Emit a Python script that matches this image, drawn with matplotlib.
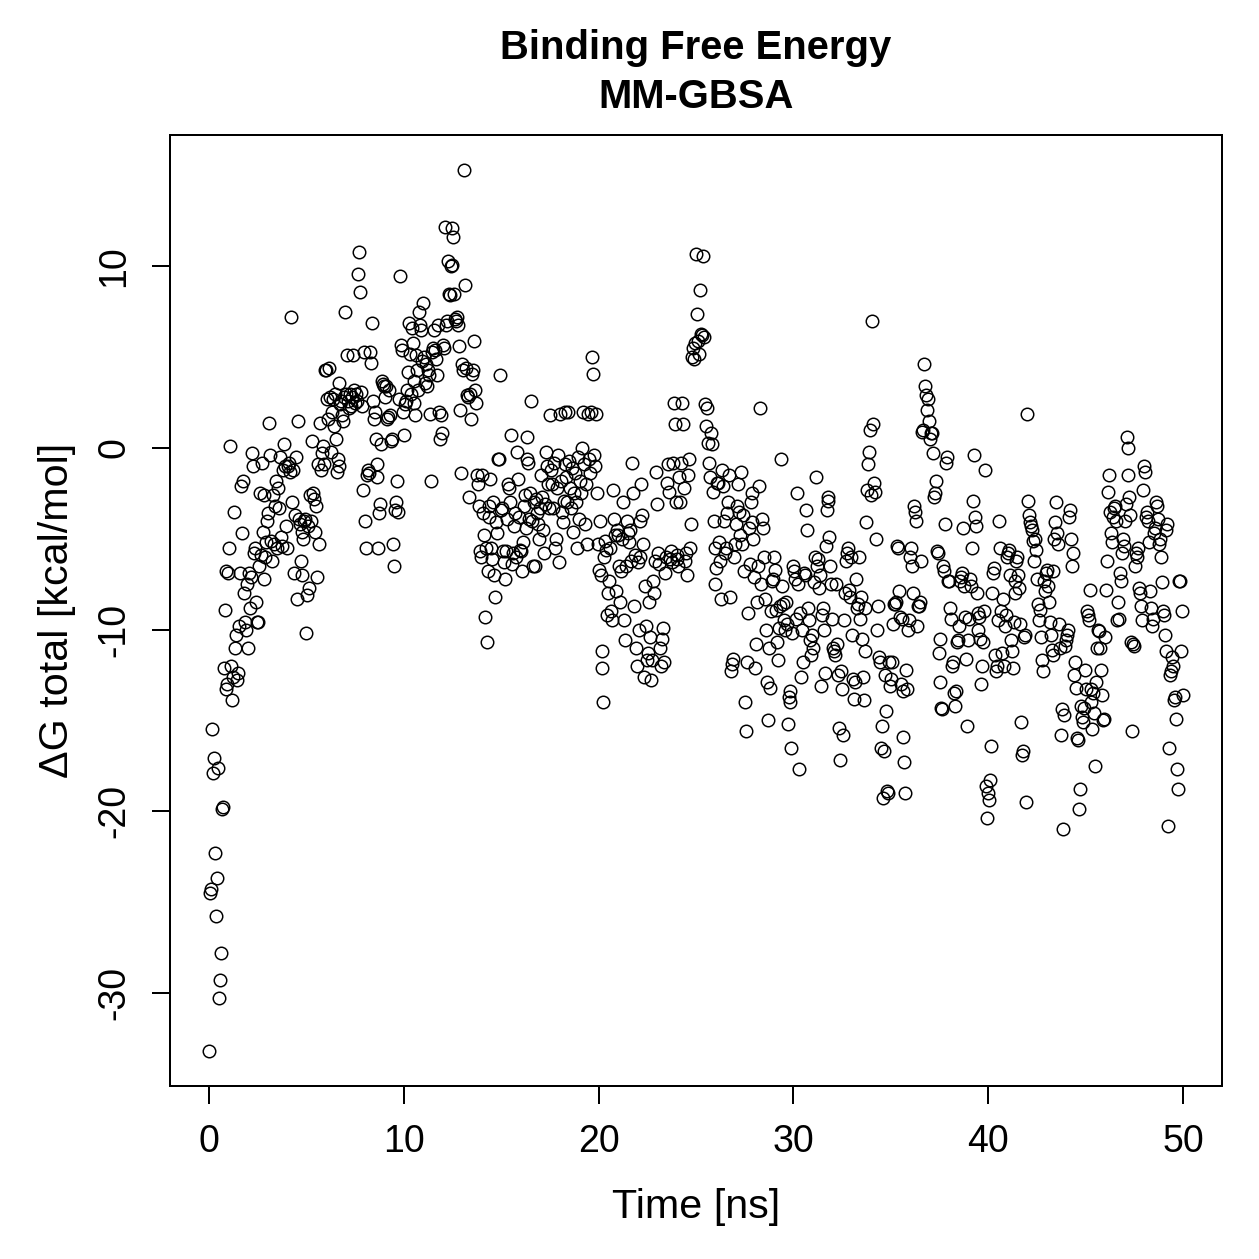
import numpy as np
import matplotlib
matplotlib.use("Agg")
from matplotlib import pyplot as plt

# Delta G total per frame, one row per ns (20 frames / ns, 0.05 ns step)
dg_total = [
    -33.2, -24.5, -24.3, -15.5, -17.9, -17.1, -22.3, -25.8, -23.7, -17.6, -30.3, -29.3, -27.8, -19.9, -19.8, -12.1, -8.9, -13.3, -6.8, -13.0,
    -6.9, -5.5, 0.1, -12.0, -13.9, -12.6, -3.5, -11.0, -10.3, -12.8, -12.4, -9.8, -6.9, -2.1, -4.7, -1.8, -8.0, -9.6, -10.0, -7.5,
    -11.0, -6.9, -8.8, -7.1, -0.3, -1.0, -5.8, -5.5, -8.5, -9.6, -9.6, -6.5, -2.5, -5.9, -0.8, -4.6, -2.6, -7.2, -6.0, -5.2,
    -4.0, -3.6, 1.4, -0.4, -5.1, -6.2, -2.6, -5.3, -3.2, -1.8, -5.5, -2.2, -3.3, -0.5, -4.9, -5.4, -1.2, 0.2, -1.0, -4.3,
    -5.5, -1.0, -0.8, -1.3, 7.2, -3.0, -1.2, -6.9, -3.7, -0.5, -8.3, 1.5, -3.9, -4.2, -6.2, -4.6, -7.0, -5.0, -4.0, -3.9,
    -10.2, -8.1, -4.3, -7.7, -2.6, -4.0, 0.4, -2.5, -2.8, -4.6, -3.2, -7.1, -0.9, -5.3, 1.4, -1.2, -0.3, 0.1, -0.9, 4.3,
    4.3, 2.7, 1.6, 4.4, 2.8, -0.2, 2.0, 2.7, 1.2, 3.0, 0.5, -1.3, -0.6, -1.0, 3.6, 2.4, 2.6, 1.8, 1.5, 2.8,
    7.5, 3.0, 5.1, 2.6, 2.2, 3.0, 2.3, 2.8, 5.1, 3.2, 2.5, 3.0, 2.6, 9.6, 10.8, 8.6, 3.1, 2.3, -2.3, 5.3,
    -4.0, -5.5, -1.5, -1.2, -1.4, 5.3, 4.7, 6.9, 2.6, 1.6, 2.0, 0.5, -0.9, -1.6, -5.5, -3.6, -3.1, 0.2, 3.7, 3.5,
    3.4, 2.8, 3.4, 1.6, 1.7, 3.2, 1.8, 0.4, 0.5, -5.3, -6.5, -3.4, -3.0, -1.8, -3.5, 2.7, 9.5, 5.7, 5.4, 2.0,
    0.7, 2.4, 2.6, 3.2, 4.2, 6.9, 5.2, 3.0, 6.6, 5.8, 2.5, 3.7, 1.8, 5.1, 4.3, 3.2, 7.5, 6.8, 6.5, 4.8,
    8.0, 5.0, 3.6, 4.6, 3.4, 4.3, 4.0, 1.9, -1.8, 5.3, 5.5, 6.5, 5.4, 4.9, 4.0, 6.8, 2.0, 0.5, 1.8, 0.8,
    5.7, 5.5, 12.2, 6.8, 7.0, 10.3, 8.5, 8.4, 10.0, 10.1, 12.1, 11.6, 8.5, 7.1, 7.0, 7.2, 6.8, 5.6, 2.1, -1.4,
    4.6, 4.3, 15.3, 9.0, 4.4, 2.9, 2.8, -2.7, 3.0, 1.6, 4.1, 4.3, 5.9, 3.2, 2.5, -1.5, -2.0, -3.2, -5.7, -6.0,
    -1.5, -3.6, -4.8, -9.3, -5.5, -10.7, -6.8, -3.8, -3.2, -1.7, -5.5, -6.1, -3.0, -7.0, -8.2, -4.1, -4.7, -0.6, -0.6, 4.0,
    -3.4, -3.3, -5.7, -6.3, -7.2, -5.7, -3.9, -2.0, -2.2, -3.0, 0.7, -6.4, -5.8, -4.3, -3.6, -6.0, -0.2, -1.7, -3.8, -5.6,
    -5.7, -6.8, -5.2, -3.2, -2.6, -4.4, -0.6, 0.6, -0.8, -3.9, -2.5, 2.6, -4.0, -6.5, -3.0, -6.5, -2.8, -3.6, -4.2, -5.0,
    -3.3, -1.5, -2.7, -4.5, -5.8, -3.1, -0.2, -1.0, -2.0, -3.3, 1.8, -1.2, -2.0, -3.3, -0.8, -5.5, -5.0, -2.2, -0.4, -6.3,
    1.9, -1.8, -3.5, -4.1, -2.9, 2.0, -0.9, -1.6, -3.0, 2.0, -0.7, -2.2, -3.3, -1.1, -4.6, -2.5, -1.4, -3.0, -5.5, -0.5,
    -3.9, -1.8, -2.5, 0.0, 2.0, -0.9, -4.2, -2.0, -5.3, 1.9, -0.6, -1.4, 2.0, 5.0, 4.1, -0.4, -1.0, 1.9, -2.5, -5.3,
    -6.7, -4.0, -7.0, -11.2, -12.1, -14.0, -6.0, -5.1, -5.6, -9.2, -8.0, -7.3, -5.5, -9.0, -9.5, -2.3, -3.9, -4.8, -7.9, -4.5,
    -4.8, -6.5, -8.5, -6.8, -5.0, -3.0, -9.5, -10.6, -6.5, -4.0, -4.7, -5.2, -4.5, -6.2, -0.8, -2.5, -8.7, -5.9, -11.0, -12.0,
    -6.3, -10.0, -6.0, -4.0, -2.0, -3.7, -5.3, -12.6, -7.6, -9.8, -11.7, -11.3, -8.5, -10.4, -12.8, -11.7, -7.3, -8.0, -6.2, -1.3,
    -3.1, -5.8, -6.4, -11.0, -12.0, -10.5, -9.9, -11.8, -6.9, -6.0, -1.9, -0.9, -2.4, -6.1, -5.7, -6.3, -0.8, 2.5, 1.3, -3.0,
    -6.1, -5.9, -6.5, -1.6, -3.0, -0.8, 2.5, 1.3, -2.2, -6.2, -5.8, -7.0, -1.5, -0.6, -5.5, -4.2, 5.0, 5.5, 4.9, 5.8,
    10.7, 7.4, 5.9, 5.2, 8.7, 6.3, 6.2, 10.6, 6.1, 2.4, 1.2, 2.2, 0.3, -0.8, -1.6, 0.8, 0.2, -2.4, -4.0, -5.5,
    -7.5, -6.6, -1.9, -1.9, -5.2, -6.2, -8.3, -1.2, -2.1, -4.0, -5.8, -5.5, -3.6, -3.0, -1.5, -8.2, -12.3, -11.9, -11.6, -6.0,
    -5.3, -4.2, -3.2, -2.0, -3.5, -4.8, -1.3, -5.3, -3.7, -6.8, -14.0, -15.6, -11.8, -9.1, -4.4, -6.4, -3.0, -2.5, -4.1, -5.0,
    -7.1, -12.1, -10.8, -8.5, -6.5, -2.1, 2.2, -7.5, -3.9, -4.4, -6.0, -8.3, -10.0, -12.9, -15.0, -11.0, -13.2, -9.0, -7.3, -7.2,
    -6.0, -6.7, -8.9, -10.7, -11.7, -9.9, -8.7, -0.6, -7.6, -8.6, -9.5, -10.0, -8.5, -9.7, -15.2, -13.7, -13.4, -14.0, -16.5, -10.2,
    -6.5, -6.8, -7.2, -9.4, -2.5, -7.5, -17.7, -9.1, -12.6, -10.0, -11.8, -6.9, -7.0, -3.4, -4.5, -8.8, -9.5, -10.6, -11.4, -10.3,
    -11.0, -7.4, -6.0, -1.6, -6.5, -6.1, -7.7, -7.0, -13.1, -9.2, -8.8, -10.0, -12.4, -5.4, -3.4, -2.7, -2.9, -4.9, -6.5, -7.5,
    -9.4, -11.0, -11.2, -11.4, -7.5, -10.8, -12.5, -15.4, -17.2, -12.3, -13.3, -15.8, -9.5, -8.0, -6.2, -5.8, -5.5, -7.8, -8.2, -6.0,
    -10.3, -12.7, -13.8, -12.9, -7.2, -8.8, -8.6, -6.0, -9.4, -8.2, -10.5, -12.6, -13.9, -11.2, -8.8, -4.1, -2.3, -0.9, -0.2, 1.0,
    -2.6, 7.0, 1.3, -1.9, -2.4, -5.0, -10.0, -8.7, -11.5, -11.8, -16.5, -15.3, -19.3, -16.7, -12.5, -14.5, -18.9, -19.0, -11.8, -13.1,
    -12.7, -11.8, -9.7, -8.6, -8.6, -8.5, -5.4, -5.5, -7.9, -9.3, -13.0, -9.4, -13.4, -15.9, -17.3, -19.0, -12.2, -13.3, -10.0, -9.5,
    -6.0, -5.5, -6.5, -8.0, -3.2, -3.5, -4.0, -9.8, -8.7, -8.7, -8.5, -6.2, 0.9, 1.0, 4.6, 3.4, 2.9, 2.1, 2.7, 1.5,
    0.5, 0.8, 0.8, -0.3, -2.7, -2.5, -1.8, -5.7, -5.8, -11.3, -12.9, -10.5, -14.3, -14.4, -6.5, -6.8, -4.2, -0.8, -0.5, -7.3,
    -7.3, -8.8, -9.4, -12.0, -11.8, -13.5, -14.2, -13.4, -10.7, -10.6, -9.8, -7.3, -7.1, -6.9, -4.4, -7.6, -9.3, -11.6, -15.3, -10.6,
    -9.4, -7.2, -7.6, -5.5, -2.9, -0.4, -3.8, -4.3, -8.0, -9.1, -10.0, -9.3, -10.5, -13.0, -12.0, -10.7, -9.0, -1.2, -18.6, -20.4,
    -19.0, -19.4, -18.3, -16.4, -8.0, -6.9, -6.6, -11.4, -12.3, -12.0, -9.5, -4.0, -5.5, -9.0, -11.3, -8.3, -12.0, -9.8, -9.2, -6.0,
    -5.8, -5.6, -7.0, -10.6, -11.2, -12.1, -9.6, -8.0, -7.3, -6.2, -6.0, -7.0, -7.7, -9.7, -15.1, -16.9, -16.7, -10.4, -10.3, -19.5,
    1.9, -2.9, -3.7, -4.1, -4.3, -4.5, -5.1, -6.2, -5.0, -5.6, -7.2, -8.6, -9.5, -8.9, -10.4, -11.7, -12.3, -7.3, -7.9, -6.9,
    -6.7, -7.6, -8.5, -9.6, -10.3, -11.1, -11.4, -6.8, -5.0, -4.1, -3.0, -4.7, -5.3, -9.7, -11.0, -15.8, -14.4, -21.0, -14.7, -10.9,
    -10.6, -10.3, -10.0, -3.8, -3.4, -5.0, -6.5, -5.8, -12.5, -11.8, -13.2, -16.0, -16.1, -19.9, -18.8, -14.2, -14.8, -15.1, -14.3, -12.2,
    -13.3, -9.0, -9.2, -9.5, -7.8, -13.3, -14.0, -15.5, -13.5, -14.6, -17.5, -12.9, -11.0, -10.0, -10.1, -11.0, -12.2, -13.6, -15.0, -14.9,
    -10.4, -7.8, -6.2, -2.4, -1.5, -3.5, -4.7, -5.2, -3.8, -3.3, -3.2, -4.0, -9.5, -8.5, -9.4, -6.9, -7.3, -5.8, -5.0, -5.4,
    -4.0, -3.1, 0.6, 0.0, -1.5, -2.7, -3.7, -10.7, -15.6, -10.8, -10.9, -6.5, -5.8, -6.0, -5.5, -7.7, -8.0, -8.7, -9.5, -2.3,
    -1.0, -1.3, -3.8, -3.5, -4.0, -5.2, -7.9, -8.8, -9.8, -9.4, -4.7, -4.4, -3.0, -3.2, -3.9, -5.3, -5.0, -6.0, -7.4, -9.0,
    -9.2, -10.3, -11.2, -4.5, -4.2, -20.8, -16.5, -12.5, -12.3, -11.5, -12.0, -13.9, -13.7, -14.9, -17.7, -18.8, -7.3, -7.3, -11.2, -9.0,
    -13.6,
]
frame_step_ns = 0.05
time_ns = np.arange(len(dg_total)) * frame_step_ns

x_ticks = [0, 10, 20, 30, 40, 50]
y_ticks = [-30, -20, -10, 0, 10]

plt.rcParams['font.family'] = ['Liberation Sans', 'DejaVu Sans']
plt.rcParams['axes.unicode_minus'] = False

DPI = 180
fig = plt.figure(figsize=(1259/DPI, 1259/DPI), dpi=DPI)
ax = fig.add_axes([170/1259, 1 - 1086/1259, (1222-170)/1259, (1086-135)/1259])

ax.plot(time_ns, dg_total, "o", markerfacecolor="none", markeredgecolor="black",
        markersize=5.0, markeredgewidth=0.6)

# R-style 4% axis extension
xr = time_ns.max() - time_ns.min()
ax.set_xlim(time_ns.min() - 0.04*xr, time_ns.max() + 0.04*xr)
ymin, ymax = min(dg_total), max(dg_total)
yr = ymax - ymin
ax.set_ylim(ymin - 0.04*yr, ymax + 0.04*yr)

ax.set_xticks(x_ticks)
ax.set_yticks(y_ticks)
for s in ax.spines.values():
    s.set_linewidth(0.8)
ax.tick_params(direction="out", length=7.2, width=0.8, labelsize=15)
ax.tick_params(axis="x", pad=8)
ax.tick_params(axis="y", pad=8)
for lbl in ax.get_yticklabels():
    lbl.set_rotation(90)
    lbl.set_va("center")

ax.set_xlabel("Time [ns]", fontsize=16.5, labelpad=11)
ax.set_ylabel("ΔG total [kcal/mol]", fontsize=16.5, labelpad=8)
ax.set_title("Binding Free Energy\nMM-GBSA", fontsize=16, fontweight="bold",
             linespacing=1.35, pad=11)

fig.savefig("out.png", dpi=DPI)
